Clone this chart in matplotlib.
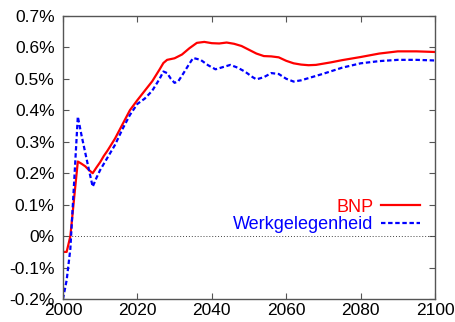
import matplotlib
matplotlib.use("Agg")
import matplotlib.pyplot as plt

plt.rcParams['font.family'] = ['Liberation Sans', 'DejaVu Sans']

# annual growth contribution in %
bnp_years = [2000, 2001, 2002, 2003, 2004, 2005, 2006, 2007, 2008, 2009, 2010, 2011, 2012,
             2014, 2016, 2018, 2020, 2022, 2024, 2026, 2027, 2028, 2030, 2032, 2034,
             2036, 2038, 2040, 2042, 2044, 2046, 2048, 2050, 2052, 2054, 2056, 2058,
             2060, 2062, 2064, 2066, 2068, 2070, 2072, 2075, 2080, 2085, 2090, 2095, 2100]
bnp = [-0.05, -0.05, 0.0, 0.12, 0.237, 0.23, 0.222, 0.21, 0.20, 0.218, 0.235, 0.255, 0.272,
       0.31, 0.355, 0.40, 0.432, 0.462, 0.492, 0.53, 0.55, 0.56, 0.565, 0.577, 0.597,
       0.614, 0.617, 0.613, 0.612, 0.615, 0.611, 0.604, 0.592, 0.58, 0.572, 0.571, 0.568,
       0.557, 0.549, 0.545, 0.543, 0.544, 0.548, 0.552, 0.559, 0.569, 0.58, 0.587, 0.587, 0.585]

werk_years = [2000, 2001, 2002, 2003, 2004, 2005, 2006, 2007, 2008, 2009, 2010, 2012,
              2014, 2016, 2018, 2020, 2022, 2024, 2026, 2027, 2028, 2029, 2030, 2031,
              2032, 2034, 2035, 2037, 2039, 2041, 2043, 2045, 2047, 2049, 2051, 2052,
              2054, 2056, 2058, 2060, 2062, 2064, 2066, 2070, 2075, 2080, 2085, 2090, 2095, 2100]
werk = [-0.2, -0.14, -0.04, 0.17, 0.38, 0.32, 0.265, 0.21, 0.157, 0.185, 0.21, 0.25,
        0.29, 0.34, 0.385, 0.42, 0.437, 0.462, 0.5, 0.523, 0.518, 0.5, 0.487, 0.492,
        0.51, 0.548, 0.566, 0.56, 0.543, 0.53, 0.537, 0.544, 0.535, 0.522, 0.505, 0.498,
        0.505, 0.518, 0.515, 0.5, 0.491, 0.495, 0.502, 0.516, 0.535, 0.549, 0.556, 0.56, 0.56, 0.558]

yticks = [-0.2, -0.1, 0, 0.1, 0.2, 0.3, 0.4, 0.5, 0.6, 0.7]
xticks = [2000, 2020, 2040, 2060, 2080, 2100]

fig = plt.figure(figsize=(4.56, 3.22), dpi=100)
ax = fig.add_axes([0.138, 0.071, 0.816, 0.880])

ax.axhline(0, color='#444444', lw=0.7, ls=(0, (1, 2)))
ax.plot(bnp_years, bnp, color='#ff0000', lw=1.6, label='BNP')
ax.plot(werk_years, werk, color='#0000ff', lw=1.6, ls=(0, (2, 1.2)), label='Werkgelegenheid')

ax.set_xlim(2000, 2100)
ax.set_ylim(-0.2, 0.7)
ax.set_xticks(xticks)
ax.set_yticks(yticks)
ax.set_yticklabels(['%g%%' % v for v in yticks])
ax.tick_params(direction='in', top=True, right=True, length=4, width=0.8,
               color='#555555', labelsize=12.5, labelcolor='black')
ax.tick_params(axis='x', pad=3)
ax.tick_params(axis='y', pad=6)
for s in ax.spines.values():
    s.set_color('#555555')
    s.set_linewidth(1.0)

leg = ax.legend(loc='lower right', bbox_to_anchor=(0.985, 0.2), frameon=False,
                markerfirst=False, fontsize=13, handlelength=2.2, handletextpad=0.4,
                labelspacing=0.05, borderpad=0)
for t, c in zip(leg.get_texts(), ['#ff0000', '#0000ff']):
    t.set_color(c)

fig.savefig('out.png', dpi=100)
